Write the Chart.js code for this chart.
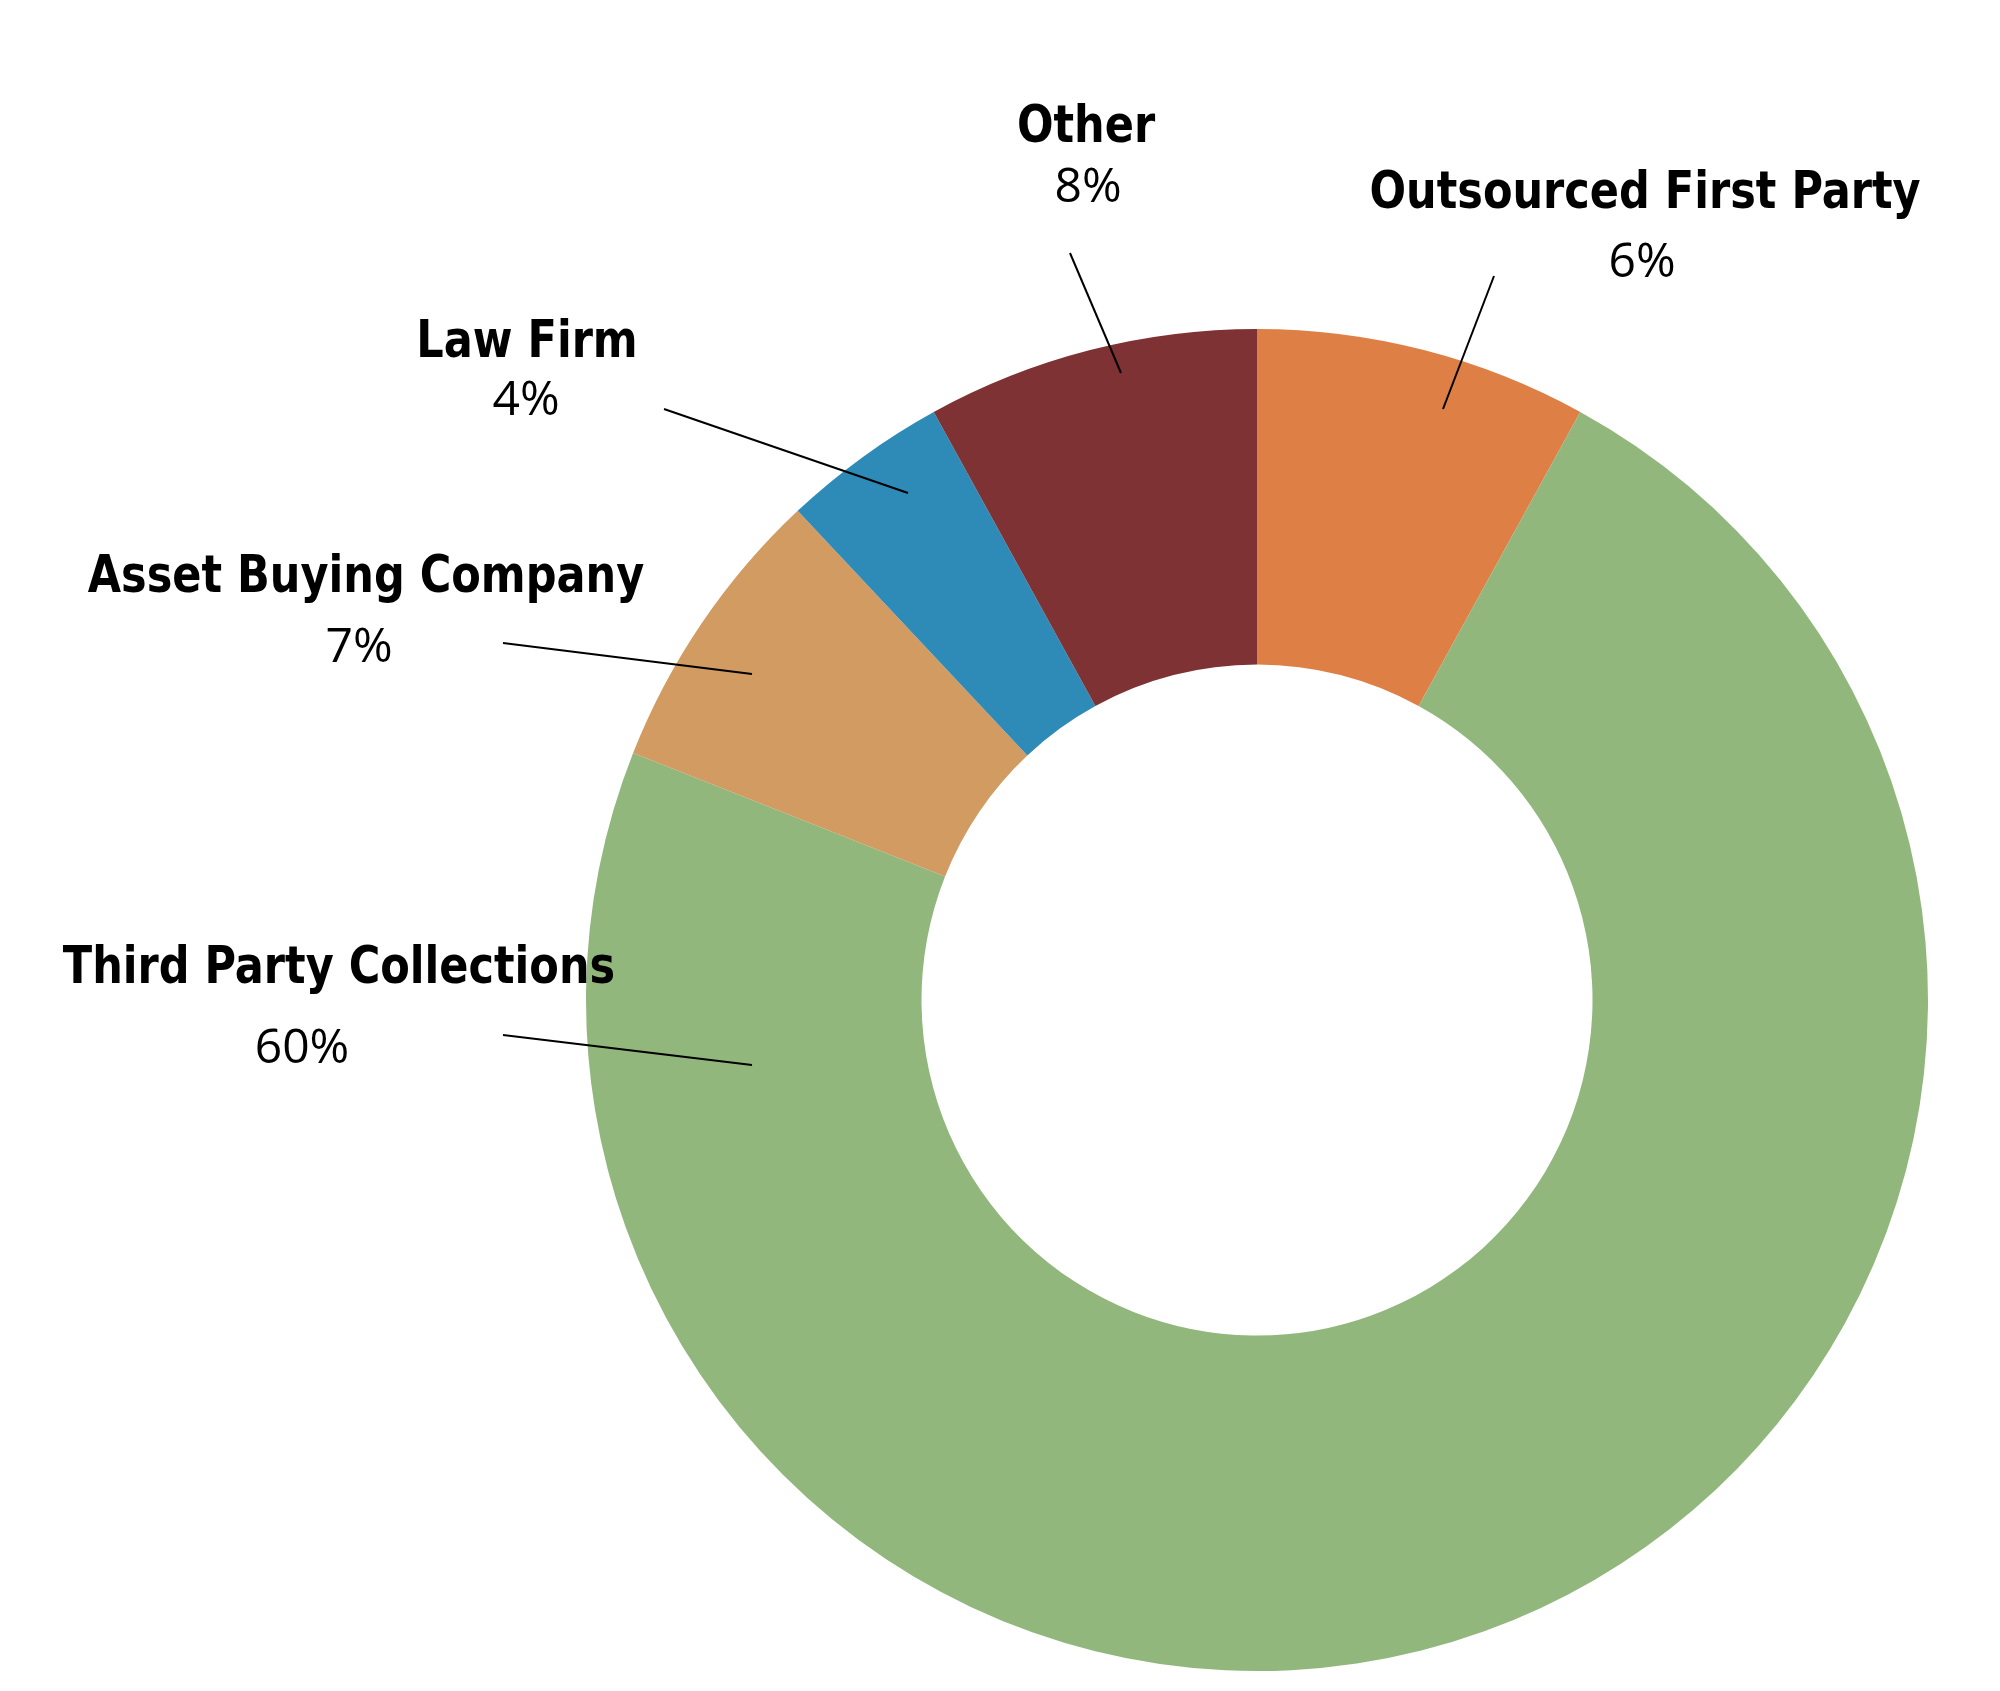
<!DOCTYPE html>
<html>
<head>
  <title>Collections Split</title>
  <script src="https://cdn.jsdelivr.net/npm/chart.js"></script>
</head>
<body style="margin:0;background:#fff;">
  <canvas id="chart" width="2000" height="1691"></canvas>

  <script>
    // slice order runs clockwise from 12 o'clock
    const categories = ["Outsourced First Party", "Third Party Collections", "Asset Buying Company", "Law Firm", "Other"];
    // slice sizes as drawn (share of the ring, %)
    const shares = [8, 73, 7, 4, 8];
    // percentages as printed on the labels
    const pctLabels = ["6%", "60%", "7%", "4%", "8%"];
    const colors = ["#DE7F46", "#91B77D", "#D19B62", "#2E8BB8", "#7E3234"];

    // label layout, px offsets from the ring centre
    const labelLayout = [
      { name: [388, -792], pct: [385, -723], line: [237, -724, 186, -591] },
      { name: [-918, -17], pct: [-955, 63], line: [-754, 35, -505, 65] },
      { name: [-891, -408], pct: [-898, -338], line: [-754, -357, -505, -326] },
      { name: [-730, -643], pct: [-731, -585], line: [-593, -591, -349, -507] },
      { name: [-171, -858], pct: [-169, -798], line: [-187, -747, -136, -627] }
    ];

    const calloutPlugin = {
      id: "callouts",
      afterDraw(chart) {
        const c = chart.ctx;
        const arc = chart.getDatasetMeta(0).data[0];
        const cx = arc.x, cy = arc.y;
        c.save();
        c.strokeStyle = "#000";
        c.lineWidth = 2;
        c.fillStyle = "#000";
        c.textAlign = "center";
        c.textBaseline = "alphabetic";
        labelLayout.forEach((l, i) => {
          c.beginPath();
          c.moveTo(cx + l.line[0], cy + l.line[1]);
          c.lineTo(cx + l.line[2], cy + l.line[3]);
          c.stroke();
          // bold name, squeezed a bit to get the narrow look of the original
          c.save();
          c.translate(cx + l.name[0], cy + l.name[1]);
          c.scale(0.92, 1);
          c.font = "bold 52px 'DejaVu Sans Condensed', Roboto, sans-serif";
          c.fillText(categories[i], 0, 0);
          c.restore();
          c.font = "48px 'Open Sans', Roboto, sans-serif";
          c.fillText(pctLabels[i], cx + l.pct[0], cy + l.pct[1]);
        });
        c.restore();
      }
    };

    const ctx = document.getElementById("chart").getContext("2d");
    const chart = new Chart(ctx, {
      type: "doughnut",
      data: {
        labels: categories,
        datasets: [{
          data: shares,
          backgroundColor: colors,
          borderWidth: 0
        }]
      },
      options: {
        responsive: false,
        devicePixelRatio: 1,
        animation: false,
        cutout: "50%",
        layout: { padding: { left: 586, right: 72, top: 329, bottom: 20 } },
        plugins: {
          legend: { display: false },
          tooltip: { enabled: false }
        }
      },
      plugins: [calloutPlugin]
    });
  </script>
</body>
</html>
